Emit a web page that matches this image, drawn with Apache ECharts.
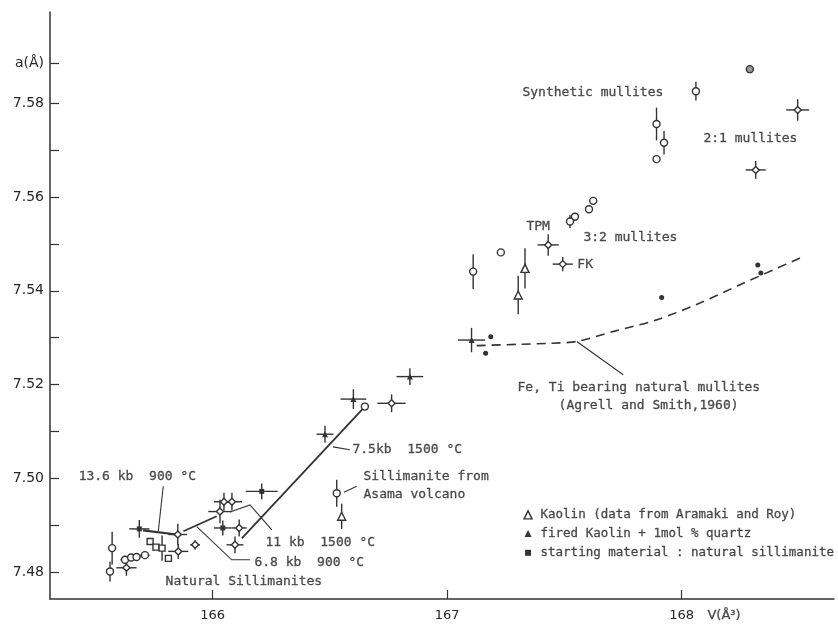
<!DOCTYPE html>
<html><head><meta charset="utf-8">
<script src="https://cdn.jsdelivr.net/npm/echarts@6/dist/echarts.min.js"></script>
<style>html,body{margin:0;padding:0;background:#fff}#c{width:838px;height:624px}</style>
</head><body><div id="c"></div>
<script>
const INK = '#333333';
const TEXT_INK = '#262626';
const FONT = 'DejaVu Sans';
const NOTE_FONT = 'DejaVu Sans Mono';

// ---- axis ticks ----
const xTickValues = [166, 167, 168];
const xTickLabels = ['166', '167', '168'];
const yTickValues = [7.48, 7.49, 7.50, 7.51, 7.52, 7.53, 7.54, 7.55, 7.56, 7.57, 7.58, 7.5885];
const yLabelValues = [7.48, 7.50, 7.52, 7.54, 7.56, 7.58, 7.5885];
const yLabelTexts = ['7.48', '7.50', '7.52', '7.54', '7.56', '7.58', 'a(Å)'];

// ---- data: [V, a, V error, a error] ----
const synthCircles = [
  [168.061, 7.5826, 0, 0.0020],
  [167.893, 7.5756, 0, 0.0035],
  [167.925, 7.5716, 0, 0.0025],
  [167.893, 7.5681, 0, 0],
  [167.623, 7.5592, 0, 0],
  [167.605, 7.5574, 0, 0],
  [167.545, 7.5558, 0, 0],
  [167.524, 7.5548, 0, 0.0014],
  [167.229, 7.5482, 0, 0],
  [167.111, 7.5441, 0, 0.0037]
];
const grayCircles = [[168.291, 7.5873, 0, 0]];
const naturalCircles = [
  [165.571, 7.4851, 0, 0.0035],
  [165.562, 7.4801, 0, 0.0021],
  [165.626, 7.4826, 0.02, 0],
  [165.652, 7.4831, 0.02, 0],
  [165.675, 7.4832, 0.02, 0],
  [165.711, 7.4836, 0.02, 0],
  [166.529, 7.4968, 0, 0.0029],
  [166.649, 7.5153, 0, 0]
];
const kaolinTriangles = [
  [167.332, 7.5448, 0, 0.0043],
  [167.303, 7.5391, 0, 0.0041],
  [166.550, 7.4919, 0, 0.0027]
];
const openCrosses = [
  [168.495, 7.5786, 0.049, 0.0023],
  [168.316, 7.5658, 0.043, 0.0019],
  [167.431, 7.5498, 0.045, 0.0023],
  [167.493, 7.5457, 0.043, 0.0015],
  [166.763, 7.5160, 0.060, 0.0019],
  [166.048, 7.4950, 0.043, 0.0019],
  [166.082, 7.4950, 0.043, 0.0019],
  [166.031, 7.4929, 0.050, 0.0025],
  [166.113, 7.4894, 0.032, 0.0018],
  [166.095, 7.4858, 0.036, 0.0018],
  [165.925, 7.4858, 0.021, 0.0010],
  [165.851, 7.4880, 0.040, 0.0023],
  [165.853, 7.4844, 0.043, 0.0016],
  [165.632, 7.4809, 0.043, 0.0017]
];
const firedTriangles = [
  [167.104, 7.5295, 0.058, 0.0026],
  [166.841, 7.5217, 0.057, 0.0018],
  [166.600, 7.5169, 0.055, 0.0021],
  [166.479, 7.5094, 0.036, 0.0018]
];
const startSquares = [
  [166.209, 7.4972, 0.068, 0.0017],
  [165.687, 7.4892, 0.043, 0.0019],
  [166.043, 7.4894, 0.038, 0.0016]
];
const naturalSquares = [
  [165.733, 7.4865, 0, 0],
  [165.758, 7.4853, 0, 0],
  [165.784, 7.4851, 0, 0.0027],
  [165.811, 7.4829, 0, 0]
];
const feTiDots = [
  [167.186, 7.5302], [167.164, 7.5267], [167.915, 7.5386],
  [168.325, 7.5455], [168.338, 7.5438]
];
const feTiCurve = [
  [167.126, 7.5283], [167.310, 7.5286], [167.438, 7.5288], [167.553, 7.5292],
  [167.707, 7.5313], [167.893, 7.5338], [168.078, 7.5374], [168.249, 7.5413],
  [168.505, 7.5470]
];

// ---- arrows and leader lines ----
const heavyLines = [
  [[165.703, 7.4889], [165.846, 7.4880]]
];
const heavyArrows = [
  [[165.875, 7.4887], [166.017, 7.4919]],
  [[166.124, 7.4872], [166.649, 7.5153]]
];
const leaderLines = [
  [[165.789, 7.4983], [165.768, 7.4887]],
  [[166.159, 7.4826], [166.081, 7.4826], [165.932, 7.4897]],
  [[166.252, 7.4890], [166.159, 7.4943], [166.074, 7.4928]]
];
const leaderArrows = [
  [[166.585, 7.5061], [166.513, 7.5067]],
  [[166.614, 7.4983], [166.560, 7.4970]],
  [[167.751, 7.5221], [167.553, 7.5292]]
];

// ---- annotations ----
const noteTexts = ['Synthetic mullites', '2:1 mullites', 'TPM', '3:2 mullites', 'FK',
  'Fe, Ti bearing natural mullites', '(Agrell and Smith,1960)', '7.5kb  1500 °C',
  'Sillimanite from', 'Asama volcano', '13.6 kb  900 °C', '11 kb  1500 °C',
  '6.8 kb  900 °C', 'Natural Sillimanites'];
const notePos = [
  [167.319, 7.5824], [168.091, 7.5725], [167.336, 7.5537], [167.579, 7.5513], [167.553, 7.5455],
  [167.298, 7.5193], [167.473, 7.5155], [166.594, 7.5061],
  [166.641, 7.5003], [166.641, 7.4965], [165.426, 7.5003], [166.223, 7.4862],
  [166.176, 7.4820], [165.797, 7.4779]
];
const legendTexts = ['Kaolin (data from Aramaki and Roy)', 'fired Kaolin + 1mol % quartz',
  'starting material : natural sillimanite'];
const legendTextPos = [[167.396, 7.4922], [167.396, 7.4882], [167.396, 7.4841]];
const axisNameText = ['V(Å³)'];
const axisNamePos = [[168.108, 7.4707]];
const legendKaolin = [[167.345, 7.4922]];
const legendFired = [[167.345, 7.4882]];
const legendStart = [[167.345, 7.4841]];

const allErr = [].concat(synthCircles, grayCircles, naturalCircles, kaolinTriangles,
  openCrosses, firedTriangles, startSquares, naturalSquares);

function errRender(params, api) {
  const x = api.value(0), y = api.value(1), xe = api.value(2), ye = api.value(3);
  const ch = [];
  if (xe > 0) {
    const a = api.coord([x - xe, y]), b = api.coord([x + xe, y]);
    ch.push({type: 'line', shape: {x1: a[0], y1: a[1], x2: b[0], y2: b[1]}, style: {stroke: INK, lineWidth: 1.4}});
  }
  if (ye > 0) {
    const a = api.coord([x, y - ye]), b = api.coord([x, y + ye]);
    ch.push({type: 'line', shape: {x1: a[0], y1: a[1], x2: b[0], y2: b[1]}, style: {stroke: INK, lineWidth: 1.4}});
  }
  return {type: 'group', children: ch};
}

const pts = arr => arr.map(d => [d[0], d[1]]);
function sc(data, symbol, size, open, fill) {
  return {
    type: 'scatter', data: pts(data), symbol: symbol, symbolSize: size, z: 5, silent: true,
    itemStyle: open ? {color: fill || '#fff', borderColor: INK, borderWidth: 1.4, opacity: 1}
                    : {color: INK, opacity: 1}
  };
}
function textSeries(texts, pos, font, size) {
  return {type: 'scatter', symbolSize: 1, silent: true, clip: false, z: 6,
    itemStyle: {color: 'rgba(0,0,0,0)'},
    data: texts.map((t, i) => ({name: t, value: pos[i]})),
    label: {show: true, position: 'right', distance: 0, formatter: '{b}',
      fontSize: size, color: TEXT_INK, fontFamily: font, textBorderColor: TEXT_INK, textBorderWidth: 0.3}};
}

const chart = echarts.init(document.getElementById('c'));
chart.setOption({
  animation: false,
  backgroundColor: '#fff',
  grid: {left: 50, right: 4, top: 12, bottom: 25, containLabel: false},
  xAxis: {
    type: 'value', min: 165.306, max: 168.65,
    axisLine: {show: true, onZero: false, lineStyle: {color: INK, width: 1.5}},
    axisTick: {show: true, inside: true, length: 9, customValues: xTickValues, lineStyle: {color: INK, width: 1.2}},
    axisLabel: {customValues: xTickValues, formatter: v => xTickLabels[xTickValues.indexOf(v)],
      fontSize: 13, color: TEXT_INK, fontFamily: FONT, margin: 10},
    splitLine: {show: false}
  },
  yAxis: {
    type: 'value', min: 7.47424, max: 7.5995,
    axisLine: {show: true, onZero: false, lineStyle: {color: INK, width: 1.5}},
    axisTick: {show: true, inside: true, length: 9, customValues: yTickValues, lineStyle: {color: INK, width: 1.2}},
    axisLabel: {customValues: yLabelValues, formatter: v => yLabelTexts[yLabelValues.indexOf(v)],
      fontSize: 14, color: TEXT_INK, fontFamily: FONT, margin: 6},
    splitLine: {show: false}
  },
  series: [
    {type: 'line', data: feTiCurve, smooth: 0.3, showSymbol: false, silent: true,
      lineStyle: {color: INK, width: 1.6, type: [9, 6]}},
    {type: 'lines', coordinateSystem: 'cartesian2d', polyline: true, silent: true,
      data: leaderLines.map(c => ({coords: c})), lineStyle: {color: INK, width: 1.1, opacity: 1}},
    {type: 'lines', coordinateSystem: 'cartesian2d', polyline: true, silent: true,
      symbol: ['none', 'arrow'], symbolSize: 7,
      data: leaderArrows.map(c => ({coords: c})), lineStyle: {color: INK, width: 1.1, opacity: 1}},
    {type: 'lines', coordinateSystem: 'cartesian2d', polyline: true, silent: true,
      data: heavyLines.map(c => ({coords: c})), lineStyle: {color: INK, width: 2.2, opacity: 1}},
    {type: 'lines', coordinateSystem: 'cartesian2d', polyline: true, silent: true,
      symbol: ['none', 'arrow'], symbolSize: 9,
      data: heavyArrows.map(c => ({coords: c})), lineStyle: {color: INK, width: 1.8, opacity: 1}},
    {type: 'custom', data: allErr, renderItem: errRender, encode: {x: 0, y: 1}, z: 3, silent: true, clip: false},
    sc(synthCircles, 'circle', 7, true),
    sc(grayCircles, 'circle', 7, true, '#9a9a9a'),
    sc(naturalCircles, 'circle', 7, true),
    sc(kaolinTriangles, 'triangle', 8, true),
    sc(openCrosses, 'diamond', 7, true),
    sc(firedTriangles, 'triangle', 6, false),
    sc(startSquares, 'rect', 5, false),
    sc(naturalSquares, 'rect', 6, true),
    sc(feTiDots, 'circle', 5, false),
    sc(legendKaolin, 'triangle', 8, true),
    sc(legendFired, 'triangle', 7, false),
    sc(legendStart, 'rect', 6, false),
    textSeries(noteTexts, notePos, NOTE_FONT, 13),
    textSeries(legendTexts, legendTextPos, NOTE_FONT, 12.5),
    textSeries(axisNameText, axisNamePos, FONT, 13)
  ]
});
</script></body></html>
